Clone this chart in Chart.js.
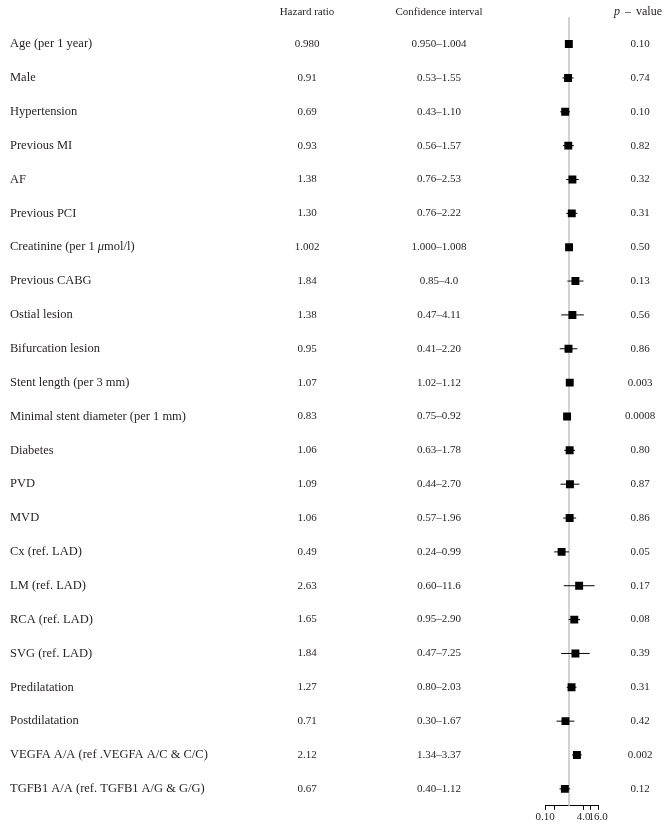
<!DOCTYPE html>
<html>
<head>
<meta charset="utf-8">
<script src="https://cdn.jsdelivr.net/npm/chart.js@4.4.1/dist/chart.umd.min.js"></script>
<style>
  html, body { margin: 0; padding: 0; background: #fff; }
  #wrap { width: 670px; height: 827px; position: relative; }
</style>
</head>
<body>
<div id="wrap"><canvas id="forest"></canvas></div>
<script>
'use strict';

// ─── Data ─────────────────────────────────────────────────────────────────────

const variables = [
    'Age (per 1 year)', 'Male', 'Hypertension', 'Previous MI', 'AF', 'Previous PCI',
    'Creatinine (per 1 μmol/l)', 'Previous CABG', 'Ostial lesion', 'Bifurcation lesion',
    'Stent length (per 3 mm)', 'Minimal stent diameter (per 1 mm)', 'Diabetes', 'PVD', 'MVD',
    'Cx (ref. LAD)', 'LM (ref. LAD)', 'RCA (ref. LAD)', 'SVG (ref. LAD)', 'Predilatation',
    'Postdilatation', 'VEGFA A/A (ref .VEGFA A/C & C/C)', 'TGFB1 A/A (ref. TGFB1 A/G & G/G)'
];
const hazardRatios = ['0.980', '0.91', '0.69', '0.93', '1.38', '1.30', '1.002', '1.84', '1.38', '0.95',
    '1.07', '0.83', '1.06', '1.09', '1.06', '0.49', '2.63', '1.65', '1.84', '1.27', '0.71', '2.12', '0.67'];
const ciLower = ['0.950', '0.53', '0.43', '0.56', '0.76', '0.76', '1.000', '0.85', '0.47', '0.41',
    '1.02', '0.75', '0.63', '0.44', '0.57', '0.24', '0.60', '0.95', '0.47', '0.80', '0.30', '1.34', '0.40'];
const ciUpper = ['1.004', '1.55', '1.10', '1.57', '2.53', '2.22', '1.008', '4.0', '4.11', '2.20',
    '1.12', '0.92', '1.78', '2.70', '1.96', '0.99', '11.6', '2.90', '7.25', '2.03', '1.67', '3.37', '1.12'];
const pValues = ['0.10', '0.74', '0.10', '0.82', '0.32', '0.31', '0.50', '0.13', '0.56', '0.86',
    '0.003', '0.0008', '0.80', '0.87', '0.86', '0.05', '0.17', '0.08', '0.39', '0.31', '0.42', '0.002', '0.12'];

const tickValues = [0.1, 0.25, 4, 8, 16];
const tickLabels = ['0.10', '', '4.0', '', '16.0'];

// ─── Styling ──────────────────────────────────────────────────────────────────

const SERIF = "'Liberation Serif', 'DejaVu Serif', serif";
const TEXT_COLOR = '#231f20';
const LABEL_FONT = '12.5px ' + SERIF;
const COL = { label: 10, hr: 307, ci: 439, p: 640 };

// draws a label, setting "μ" in italic like the source table
function drawLabel(ctx, text, x, y) {
    const parts = text.split('μ');
    let cx = x;
    parts.forEach((part, k) => {
        if (k > 0) {
            ctx.font = 'italic ' + LABEL_FONT;
            ctx.fillText('μ', cx, y);
            cx += ctx.measureText('μ').width;
        }
        ctx.font = LABEL_FONT;
        ctx.fillText(part, cx, y);
        cx += ctx.measureText(part).width;
    });
}

// text table drawn next to the plot, rows placed by the y scale
const tableText = {
    id: 'tableText',
    afterDraw(chart) {
        const { ctx, scales: { y } } = chart;
        ctx.save();
        ctx.fillStyle = TEXT_COLOR;
        ctx.font = '11px ' + SERIF;
        ctx.textBaseline = 'middle';

        const headY = y.getPixelForValue(-0.94);
        ctx.textAlign = 'center';
        ctx.fillText('Hazard ratio', COL.hr, headY);
        ctx.fillText('Confidence interval', COL.ci, headY);
        // "p – value" with italic p
        ctx.textAlign = 'left';
        ctx.font = 'italic 12px ' + SERIF;
        ctx.fillText('p', 614, headY);
        ctx.font = '12px ' + SERIF;
        ctx.fillText('\u2013', 625, headY);
        ctx.fillText('value', 636, headY);

        variables.forEach((name, i) => {
            const py = y.getPixelForValue(i);
            ctx.textAlign = 'left';
            drawLabel(ctx, name, COL.label, py);
            ctx.font = '11px ' + SERIF;
            ctx.textAlign = 'center';
            ctx.fillText(hazardRatios[i], COL.hr, py);
            ctx.fillText(ciLower[i] + '\u2013' + ciUpper[i], COL.ci, py);
            ctx.fillText(pValues[i], COL.p, py);
        });
        ctx.restore();
    }
};

const whiskers = variables.map((v, i) => ({
    type: 'line',
    data: [{ x: parseFloat(ciLower[i]), y: i }, { x: parseFloat(ciUpper[i]), y: i }],
    borderColor: '#000', borderWidth: 1, pointRadius: 0, order: 2,
}));

new Chart(document.getElementById('forest'), {
    type: 'scatter',
    data: {
        datasets: [
            {
                // reference line at HR = 1
                type: 'line',
                data: [{ x: 1, y: -0.8 }, { x: 1, y: 22.5 }],
                borderColor: '#cccccc', borderWidth: 1, pointRadius: 0, order: 3,
            },
            ...whiskers,
            {
                data: hazardRatios.map((h, i) => ({ x: parseFloat(h), y: i })),
                pointStyle: 'rect', pointRadius: 5.6,
                backgroundColor: '#000', borderColor: '#000', borderWidth: 0, order: 1,
            },
        ],
    },
    options: {
        responsive: true, maintainAspectRatio: false, animation: false,
        layout: { padding: { left: 545, right: 72, top: 17, bottom: 2 } },
        plugins: { legend: { display: false }, tooltip: { enabled: false } },
        scales: {
            x: {
                type: 'logarithmic', min: 0.1, max: 16,
                afterBuildTicks: s => { s.ticks = tickValues.map(v => ({ value: v })); },
                grid: { drawOnChartArea: false, drawTicks: true, tickLength: 4, color: '#000' },
                border: { color: '#000', width: 1 },
                ticks: {
                    autoSkip: false, maxRotation: 0, minRotation: 0, padding: 1,
                    color: TEXT_COLOR, font: { family: SERIF, size: 11 },
                    callback: (v, idx) => tickLabels[idx],
                },
            },
            y: {
                type: 'linear', reverse: true, min: -0.8, max: 22.5, display: false,
            },
        },
    },
    plugins: [tableText],
});
</script>
</body>
</html>
